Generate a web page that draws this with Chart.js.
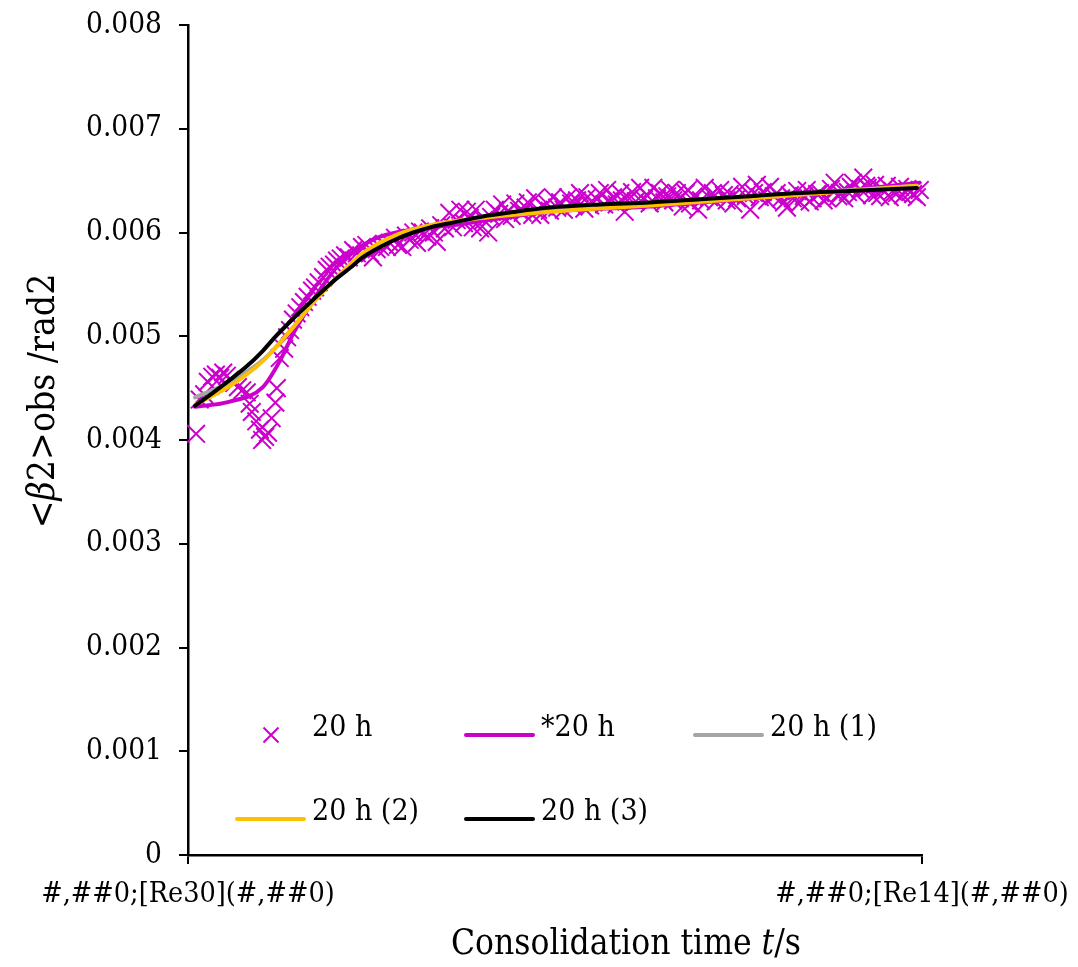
<!DOCTYPE html>
<html><head><meta charset="utf-8">
<script src="https://cdn.jsdelivr.net/npm/chart.js@4"></script>
<style>html,body{margin:0;padding:0;background:#fff;} #wrap{width:1078px;height:967px;}</style>
</head><body><div id="wrap"><canvas id="c" width="1078" height="967"></canvas></div>
<script>
const FONT = "'DejaVu Serif Condensed', 'DejaVu Serif', serif";

const seriesNames = ['20 h', '*20 h', '20 h (1)', '20 h (2)', '20 h (3)'];
const yTickLabels = ['0', '0.001', '0.002', '0.003', '0.004', '0.005', '0.006', '0.007', '0.008'];
const xTickLabels = ['#,##0;[Re30](#,##0)', '#,##0;[Re14](#,##0)'];
const xTitleParts = [['Consolidation time ', false], ['t', true], ['/s', false]];
const yTitleParts = [['<', false], ['β', true], ['2>obs /rad2', false]];

// measured points "20 h"
const scatterX = [1.1,1.6,2.2,2.7,3.3,3.8,4.4,4.8,5.3,5.7,
6.3,6.8,7.4,8.0,8.4,8.7,9.3,9.8,10.1,10.5,
10.9,11.4,11.9,12.1,12.5,13.1,13.5,13.9,14.3,14.8,
15.3,15.8,16.3,16.9,17.3,17.8,18.4,18.9,19.3,19.9,
20.3,20.8,21.4,21.9,22.5,23.0,23.7,24.3,24.8,25.2,
25.7,26.2,26.7,27.1,27.5,28.2,28.6,29.2,29.7,30.2,
30.7,31.2,31.6,32.0,32.6,33.0,33.5,33.9,34.5,35.0,
35.6,36.1,36.6,37.1,37.6,38.0,38.4,38.8,39.2,39.8,
40.3,40.9,41.3,41.8,42.4,42.8,43.2,43.6,44.1,44.6,
45.1,45.6,46.0,46.3,46.9,47.3,47.7,48.0,48.5,48.9,
49.3,49.7,50.3,50.7,51.2,51.8,52.2,52.5,53.0,53.4,
54.0,54.4,54.8,55.2,55.7,56.1,56.7,57.1,57.5,57.9,
58.4,58.9,59.1,59.5,60.1,60.5,61.0,61.6,62.1,62.5,
62.9,63.4,63.9,64.3,64.9,65.3,65.7,66.1,66.6,67.0,
67.4,67.8,68.1,68.4,68.9,69.5,69.9,70.4,71.0,71.5,
71.9,72.5,73.0,73.4,73.8,74.3,74.8,75.5,76.0,76.6,
77.1,77.5,77.9,78.3,78.9,79.3,79.8,80.2,80.8,81.2,
81.6,82.0,82.4,83.0,83.4,83.9,84.3,84.7,85.1,85.7,
86.1,86.6,87.1,87.6,88.1,88.6,88.8,89.4,89.9,90.3,
90.6,91.1,91.6,92.0,92.4,92.6,93.2,93.6,93.9,94.3,
94.7,95.2,95.6,96.0,96.6,97.0,97.4,98.0,98.4,98.8,
99.3,99.7];
const scatterY = [0.00406,0.00439,0.00444,0.00456,0.00461,0.00463,0.00460,0.00465,0.00462,0.00458,
0.00455,0.00451,0.00448,0.00446,0.00435,0.00427,0.00418,0.00410,0.00400,0.00403,
0.00407,0.00421,0.00436,0.00450,0.00479,0.00488,0.00499,0.00506,0.00516,0.00522,
0.00528,0.00533,0.00538,0.00544,0.00547,0.00552,0.00557,0.00564,0.00567,0.00569,
0.00573,0.00575,0.00578,0.00576,0.00583,0.00580,0.00586,0.00588,0.00580,0.00576,
0.00584,0.00586,0.00589,0.00586,0.00590,0.00595,0.00588,0.00586,0.00597,0.00593,
0.00600,0.00590,0.00601,0.00600,0.00596,0.00604,0.00600,0.00591,0.00607,0.00604,
0.00619,0.00605,0.00612,0.00622,0.00609,0.00620,0.00614,0.00605,0.00622,0.00604,
0.00612,0.00600,0.00615,0.00622,0.00618,0.00627,0.00613,0.00620,0.00616,0.00628,
0.00621,0.00619,0.00624,0.00629,0.00617,0.00633,0.00622,0.00617,0.00625,0.00628,
0.00621,0.00634,0.00624,0.00629,0.00622,0.00634,0.00628,0.00625,0.00631,0.00638,
0.00623,0.00634,0.00626,0.00629,0.00632,0.00638,0.00627,0.00641,0.00630,0.00634,
0.00627,0.00638,0.00631,0.00620,0.00633,0.00639,0.00630,0.00643,0.00632,0.00636,
0.00628,0.00643,0.00633,0.00638,0.00629,0.00635,0.00641,0.00631,0.00638,0.00633,
0.00625,0.00638,0.00641,0.00628,0.00635,0.00622,0.00631,0.00643,0.00634,0.00638,
0.00630,0.00641,0.00636,0.00631,0.00637,0.00628,0.00633,0.00644,0.00635,0.00622,
0.00638,0.00646,0.00634,0.00639,0.00631,0.00644,0.00635,0.00638,0.00633,0.00629,
0.00624,0.00636,0.00633,0.00640,0.00629,0.00635,0.00641,0.00630,0.00633,0.00637,
0.00638,0.00631,0.00633,0.00642,0.00648,0.00635,0.00638,0.00633,0.00639,0.00644,
0.00648,0.00636,0.00642,0.00653,0.00645,0.00643,0.00636,0.00646,0.00638,0.00635,
0.00641,0.00645,0.00634,0.00640,0.00638,0.00644,0.00636,0.00642,0.00639,0.00637,
0.00634,0.00641];

// fitted curve "*20 h"
const magentaX = [0.95,5.7,10.2,12.5,14.3,16.2,18.0,20.3,23.0,26.2,30.7,37.1,49.3,62.9,76.6,90.2,99.7];
const magentaY = [0.00432,0.00437,0.00451,0.00476,0.00502,0.00525,0.00545,0.00567,0.00584,0.00596,0.00603,0.00608,0.00620,0.00625,0.00633,0.00641,0.00648];

// fitted curves "20 h (1)", "20 h (2)"
const fitX = [0.95,5.7,10.2,13.9,17.0,20.3,23.8,28.5,33.0,39.8,49.3,62.9,76.6,90.2,99.3];
const grayY = [0.00441,0.00456,0.00477,0.00505,0.00532,0.00557,0.00579,0.00597,0.00606,0.00614,0.00621,0.00627,0.00634,0.00641,0.00645];
const yellowY = [0.00434,0.00452,0.00476,0.00505,0.00532,0.00557,0.00580,0.00598,0.00607,0.00614,0.00620,0.00626,0.00633,0.00640,0.00645];

// fitted curve "20 h (3)"
const blackX = [0.95,3.3,5.7,8.0,10.2,12.1,13.9,15.5,17.0,18.7,20.3,22.1,23.8,26.2,28.5,30.7,33.0,36.4,39.8,44.6,49.3,56.1,62.9,69.8,76.6,83.4,90.2,99.3];
const blackY = [0.00433,0.00445,0.00458,0.00471,0.00486,0.00501,0.00514,0.00525,0.00535,0.00546,0.00556,0.00566,0.00576,0.00586,0.00594,0.00600,0.00605,0.00610,0.00615,0.00620,0.00624,0.00627,0.00629,0.00632,0.00635,0.00638,0.00640,0.00643];

const pts = (xs, ys) => xs.map((x, i) => ({x: x, y: ys[i]}));

const MAGENTA = '#CC00CC', GRAY = '#A5A5A5', YELLOW = '#FFC000', BLACK = '#000000';

function lineDs(label, xs, ys, color, order) {
  return {label, data: pts(xs, ys), showLine: true, borderColor: color, backgroundColor: color,
    borderWidth: 4, pointRadius: 0, pointHoverRadius: 0, cubicInterpolationMode: 'monotone',
    fill: false, order, clip: false, borderCapStyle: 'round'};
}

const datasets = [
  {label: seriesNames[0], data: pts(scatterX, scatterY), showLine: false, pointStyle: 'crossRot',
   pointRadius: 12.5, pointBorderWidth: 2, borderColor: MAGENTA, backgroundColor: MAGENTA, order: 5, clip: false},
  lineDs(seriesNames[1], magentaX, magentaY, MAGENTA, 4),
  lineDs(seriesNames[2], fitX, grayY, GRAY, 3),
  lineDs(seriesNames[3], fitX, yellowY, YELLOW, 2),
  lineDs(seriesNames[4], blackX, blackY, BLACK, 1)
];

function drawParts(ctx, parts, size, cx, cy) {
  const fonts = parts.map(p => (p[1] ? 'italic ' : '') + size + 'px ' + FONT);
  let total = 0;
  const widths = parts.map((p, i) => { ctx.font = fonts[i]; const w = ctx.measureText(p[0]).width; total += w; return w; });
  let x = cx - total / 2;
  ctx.textAlign = 'left'; ctx.textBaseline = 'middle'; ctx.fillStyle = '#000';
  parts.forEach((p, i) => { ctx.font = fonts[i]; ctx.fillText(p[0], x, cy); x += widths[i]; });
}

const decor = {
  id: 'decor',
  afterDraw(chart) {
    const ctx = chart.ctx, ca = chart.chartArea;
    ctx.save();
    // axis titles
    drawParts(ctx, xTitleParts, 35, ca.left + 438, ca.bottom + 90);
    ctx.save();
    ctx.translate(44, ca.top + 376);
    ctx.rotate(-Math.PI / 2);
    drawParts(ctx, yTitleParts, 37, 0, 0);
    ctx.restore();
    // legend
    const cols = [49, 278, 507], rows = [710, 794];
    const items = [[0, 0, 0], [1, 1, 0], [2, 2, 0], [3, 0, 1], [4, 1, 1]];
    ctx.font = '30px ' + FONT; ctx.textBaseline = 'middle'; ctx.textAlign = 'left';
    items.forEach(([di, c, r]) => {
      const ds = chart.data.datasets[di];
      const x0 = ca.left + cols[c], y0 = ca.top + rows[r];
      if (di === 0) {
        const cx = x0 + 34, d = 7.5;
        ctx.strokeStyle = ds.borderColor; ctx.lineWidth = 2;
        ctx.beginPath();
        ctx.moveTo(cx - d, y0 - d); ctx.lineTo(cx + d, y0 + d);
        ctx.moveTo(cx + d, y0 - d); ctx.lineTo(cx - d, y0 + d);
        ctx.stroke();
      } else {
        ctx.strokeStyle = ds.borderColor; ctx.lineWidth = 4; ctx.lineCap = 'round';
        ctx.beginPath(); ctx.moveTo(x0, y0); ctx.lineTo(x0 + 67, y0); ctx.stroke();
      }
      ctx.fillStyle = '#000';
      ctx.fillText(ds.label, x0 + 75, y0 - 7);
    });
    ctx.restore();
  }
};

new Chart(document.getElementById('c'), {
  type: 'scatter',
  data: {datasets},
  options: {
    responsive: false, animation: false, devicePixelRatio: 1,
    layout: {padding: {top: 25, right: 156, left: 0, bottom: 0}},
    plugins: {legend: {display: false}, tooltip: {enabled: false}},
    scales: {
      x: {
        type: 'linear', min: 0, max: 100,
        afterBuildTicks: s => { s.ticks = [{value: 0}, {value: 100}]; },
        afterFit: s => { s.height = 112; s.paddingLeft = 0; s.paddingRight = 0; },
        ticks: {callback: (v, i) => xTickLabels[i], font: {family: FONT, size: 28.5}, color: '#000',
                padding: 13, maxRotation: 0, autoSkip: false},
        grid: {drawOnChartArea: false, drawTicks: true, tickLength: 9, color: '#000', lineWidth: 2},
        border: {color: '#000', width: 2.5}
      },
      y: {
        min: 0, max: 0.008,
        afterFit: s => { s.width = 188; s.paddingTop = 0; s.paddingBottom = 0; },
        ticks: {stepSize: 0.001, callback: (v, i) => yTickLabels[i], font: {family: FONT, size: 29.5},
                color: '#000', padding: 17},
        grid: {drawOnChartArea: false, drawTicks: true, tickLength: 9, color: '#000', lineWidth: 2},
        border: {color: '#000', width: 2.5}
      }
    }
  },
  plugins: [decor]
});
</script></body></html>
